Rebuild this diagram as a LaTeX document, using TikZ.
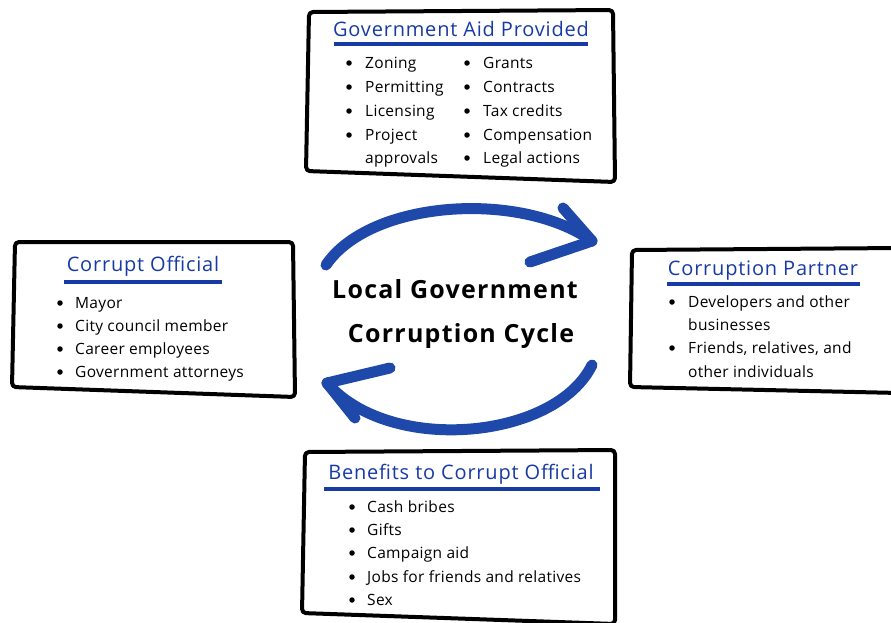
\documentclass[tikz,border=0pt]{standalone}
\usepackage{fontspec}
\setmainfont{Open Sans}
\definecolor{headblue}{RGB}{24,58,165}
\definecolor{arrowblue}{RGB}{30,72,170}
\begin{document}
\begin{tikzpicture}[x=1pt,y=-1pt,
  frame/.style={draw=black,line width=4pt,line join=round,rounded corners=4pt},
  head/.style={anchor=base,text=headblue,font=\fontsize{20}{20}\selectfont\addfontfeature{LetterSpace=4},inner sep=0pt},
  headrule/.style={draw=headblue,line width=3.6pt},
  item/.style={anchor=base west,font=\fontsize{15.5}{15.5}\selectfont\addfontfeature{LetterSpace=2},inner sep=0pt},
  dot/.style={circle,fill=black,inner sep=0pt,minimum size=5.5pt},
  title/.style={anchor=base,font=\fontsize{25}{25}\selectfont\bfseries\addfontfeature{LetterSpace=5},inner sep=0pt},
  cyclearrow/.style={draw=arrowblue,line width=11pt,line cap=round,line join=round}]
\useasboundingbox (0,0) rectangle (891,622);

% ---------- frames ----------
\draw[frame] (309,12) -- (613,10) -- (615,182) -- (306,171) -- cycle;
\draw[frame] (15,242) -- (293,242) -- (295,397) -- (12,387) -- cycle;
\draw[frame] (632,250) -- (900,248) -- (900,393) -- (630,387) -- cycle;
\draw[frame] (305,452) -- (615,450) -- (615,624) -- (302,613) -- cycle;

% ---------- government aid ----------
\node[head] (aidhead) at (461,36) {Government Aid Provided};
\draw[headrule] (334,44) -- (588,44);
\foreach \y/\t [count=\i] in {68/Zoning,92/Permitting,116/Licensing,140/Project}{
  \node[dot] (aidadot\i) at (349,\y-5) {};
  \node[item] (aida\i) at (365,\y) {\t};
}
\node[item] (aida5) at (365,163) {approvals};
\foreach \y/\t [count=\i] in {68/Grants,92/Contracts,116/Tax credits,140/Compensation,163/Legal actions}{
  \node[dot] (aidbdot\i) at (467,\y-5) {};
  \node[item] (aidb\i) at (483,\y) {\t};
}

% ---------- corrupt official ----------
\node[head] (offhead) at (143,271) {Corrupt Official};
\draw[headrule] (64,282) -- (222,282);
\foreach \y/\t [count=\i] in {308/Mayor,331/City council member,354/Career employees,377/Government attorneys}{
  \node[dot] (offdot\i) at (60,\y-5) {};
  \node[item] (off\i) at (75,\y) {\t};
}

% ---------- corruption partner ----------
\node[head] (parthead) at (763,275) {Corruption Partner};
\draw[headrule] (667,284) -- (860,284);
\node[dot] (partdot1) at (672,302) {};
\node[item] (part1) at (688,307) {Developers and other};
\node[item] (part2) at (688,330) {businesses};
\node[dot] (partdot2) at (672,348) {};
\node[item] (part3) at (688,353) {Friends, relatives, and};
\node[item] (part4) at (688,377) {other individuals};

% ---------- benefits ----------
\node[head] (benhead) at (461,479) {Benefits to Corrupt Official};
\draw[headrule] (324,489) -- (600,489);
\foreach \y/\t [count=\i] in {512/Cash bribes,535/Gifts,558/Campaign aid,582/Jobs for friends and relatives,605/Sex}{
  \node[dot] (bendot\i) at (352,\y-5) {};
  \node[item] (ben\i) at (367,\y) {\t};
}

% ---------- centre ----------
\node[title] (cycle1) at (455,298) {Local Government};
\node[title] (cycle2) at (461,342) {Corruption Cycle};

% ---------- circular arrows ----------
\coordinate (topstart) at (326,265);
\coordinate (toptip) at (592,241);
\coordinate (botstart) at (592,365);
\coordinate (bottip) at (327,383);
\draw[cyclearrow] (topstart) .. controls (370,200) and (520,190) .. (toptip);
\draw[cyclearrow] (toptip) -- (563,208);
\draw[cyclearrow] (toptip) -- (530,262);
\draw[cyclearrow] (botstart) .. controls (555,440) and (390,455) .. (bottip);
\draw[cyclearrow] (bottip) -- (390,368);
\draw[cyclearrow] (bottip) -- (355,418);
\end{tikzpicture}
\end{document}
